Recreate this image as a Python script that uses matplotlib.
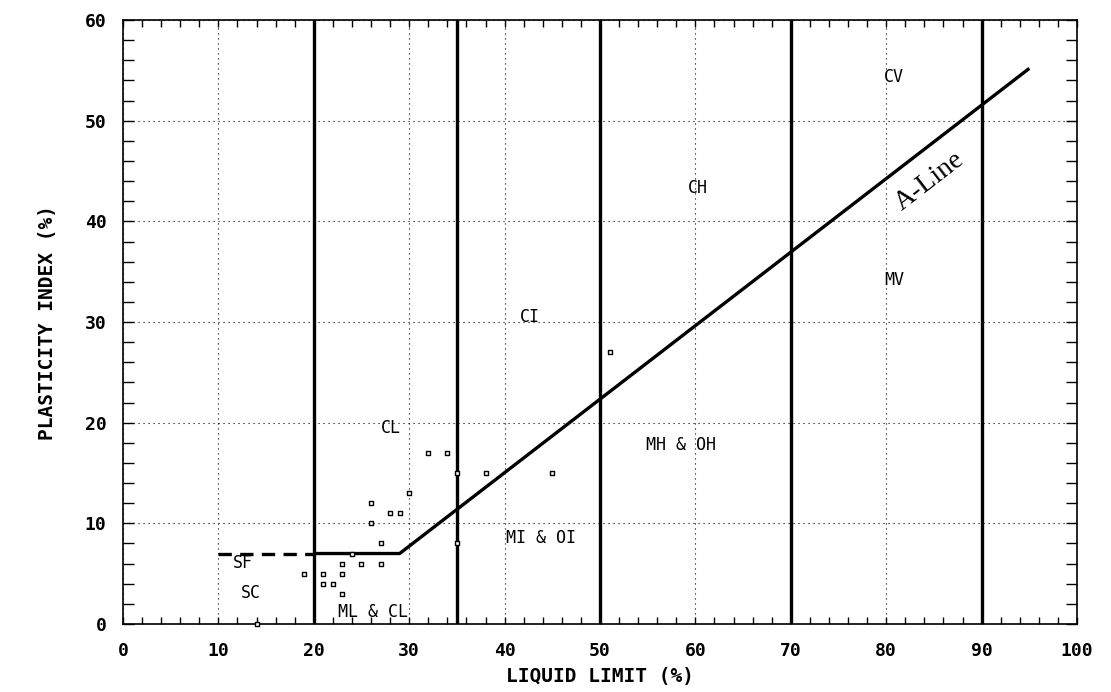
import matplotlib
matplotlib.use("Agg")
import matplotlib.pyplot as plt
from matplotlib.ticker import MultipleLocator

# --- data ---
ll_points = [34, 32, 35, 38, 45, 51, 30, 26, 28, 29, 26, 27, 35, 23, 25, 27,
             19, 21, 23, 21, 22, 23, 24, 14]
pi_points = [17, 17, 15, 15, 15, 27, 13, 12, 11, 11, 10, 8, 8, 6, 6, 6,
             5, 5, 5, 4, 4, 3, 7, 0]

boundary_ll = [20, 35, 50, 70, 90]

aline_ll = [20, 29, 95]
aline_pi = [7, 7, 55.2]
aline_dash_ll = [10, 20]
aline_dash_pi = [7, 7]

region_labels = ["SF", "SC", "ML & CL", "CL", "CI", "CH", "CV", "MV",
                 "MH & OH", "MI & OI"]
region_x = [12.6, 13.4, 26.2, 28.1, 42.7, 60.3, 80.8, 80.8, 58.5, 43.8]
region_y = [6.1, 3.1, 1.2, 19.5, 30.5, 43.3, 54.3, 34.2, 17.8, 8.5]

x_ticks = [0, 10, 20, 30, 40, 50, 60, 70, 80, 90, 100]
y_ticks = [0, 10, 20, 30, 40, 50, 60]

mono = "DejaVu Sans Mono"

fig = plt.figure(figsize=(11.11, 6.92), dpi=100)
ax = fig.add_axes([0.1107, 0.0983, 0.9694 - 0.1107, 0.971 - 0.0983])

ax.set_xlim(0, 100)
ax.set_ylim(0, 60)

# grid
ax.grid(True, which="major", linestyle=(0, (1, 3.5)), color="black", linewidth=0.8)

# boundary lines
for x in boundary_ll:
    ax.axvline(x, color="black", linewidth=2.4, zorder=3)

# A-line
ax.plot(aline_ll, aline_pi, color="black", linewidth=2.4, zorder=4,
        solid_capstyle="butt")
ax.plot(aline_dash_ll, aline_dash_pi, color="black", linewidth=2.4,
        linestyle=(0, (4, 2.5)), zorder=4)

# data points
ax.scatter(ll_points, pi_points, marker="s", s=7, facecolors="white",
           edgecolors="black", linewidths=1.0, zorder=5, clip_on=False)

# labels
for t, x, y in zip(region_labels, region_x, region_y):
    ax.text(x, y, t, ha="center", va="center", fontsize=12, family=mono,
            zorder=6)

ax.text(84.6, 44.0, "A-Line", rotation=37.6, ha="center", va="center",
        fontsize=20, family="Liberation Serif", rotation_mode="anchor", zorder=6)

# ticks
ax.set_xticks(x_ticks)
ax.set_yticks(y_ticks)
ax.xaxis.set_minor_locator(MultipleLocator(2))
ax.yaxis.set_minor_locator(MultipleLocator(2))
ax.tick_params(which="both", direction="in", top=True, right=True,
               width=1.0, color="black")
ax.tick_params(axis="x", which="both", length=5)
ax.tick_params(axis="y", which="both", length=8)
ax.tick_params(axis="x", which="major", pad=13)
ax.tick_params(axis="y", which="major", pad=12)

for lbl in ax.get_xticklabels() + ax.get_yticklabels():
    lbl.set_fontfamily(mono)
    lbl.set_fontweight("bold")
    lbl.set_fontsize(13)

for sp in ax.spines.values():
    sp.set_linewidth(1.2)

ax.set_xlabel("LIQUID LIMIT (%)", family=mono, fontsize=14, fontweight="bold",
              labelpad=5)
ax.set_ylabel("PLASTICITY INDEX (%)", family=mono, fontsize=14,
              fontweight="bold", labelpad=20)

fig.savefig("out.png", dpi=100)
